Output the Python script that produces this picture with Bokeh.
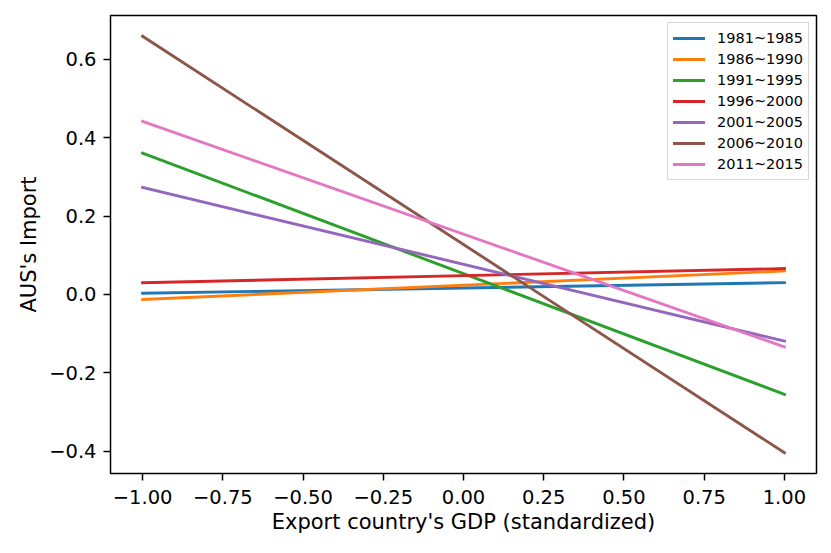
from bokeh.plotting import figure
from bokeh.models import Range1d, FixedTicker, Legend, LegendItem
from bokeh.embed import file_html
from bokeh.resources import INLINE

# ---- data ----
x_vals = [-1.0, 1.0]
periods = ["1981~1985", "1986~1990", "1991~1995", "1996~2000",
           "2001~2005", "2006~2010", "2011~2015"]
y_1981_1985 = [0.003, 0.030]
y_1986_1990 = [-0.013, 0.060]
y_1991_1995 = [0.361, -0.255]
y_1996_2000 = [0.030, 0.066]
y_2001_2005 = [0.273, -0.119]
y_2006_2010 = [0.659, -0.404]
y_2011_2015 = [0.442, -0.134]
series = [y_1981_1985, y_1986_1990, y_1991_1995, y_1996_2000,
          y_2001_2005, y_2006_2010, y_2011_2015]
colors = ["#1f77b4", "#ff7f0e", "#2ca02c", "#d62728",
          "#9467bd", "#8c564b", "#e377c2"]

x_ticks = [-1.0, -0.75, -0.5, -0.25, 0.0, 0.25, 0.5, 0.75, 1.0]
x_tick_labels = ["\u22121.00", "\u22120.75", "\u22120.50", "\u22120.25",
                 "0.00", "0.25", "0.50", "0.75", "1.00"]
y_ticks = [-0.4, -0.2, 0.0, 0.2, 0.4, 0.6]
y_tick_labels = ["\u22120.4", "\u22120.2", "0.0", "0.2", "0.4", "0.6"]

x_label = "Export country's GDP (standardized)"
y_label = "AUS's Import"

# matplotlib-like 5% margins
xmin, xmax = min(x_vals), max(x_vals)
xpad = 0.05 * (xmax - xmin)
all_y = [v for s in series for v in s]
ymin, ymax = min(all_y), max(all_y)
ypad = 0.05 * (ymax - ymin)

FONT = "DejaVu Sans"

p = figure(width=823, height=545, frame_width=706, frame_height=458,
           min_border_left=110, min_border_right=7, min_border_top=15,
           min_border_bottom=72,
           x_range=Range1d(xmin - xpad, xmax + xpad),
           y_range=Range1d(ymin - ypad, ymax + ypad),
           output_backend="svg", toolbar_location=None)

p.background_fill_color = "white"
p.border_fill_color = "white"
p.outline_line_color = "black"
p.outline_line_width = 1.5
p.outline_line_alpha = 1.0
p.grid.visible = False

items = []
for name, ys, c in zip(periods, series, colors):
    r = p.line(x_vals, ys, line_color=c, line_width=2.9, line_cap="square")
    items.append(LegendItem(label=name, renderers=[r]))

for ax in (p.xaxis[0], p.yaxis[0]):
    ax.axis_line_color = None
    ax.major_tick_line_color = "black"
    ax.major_tick_line_width = 1.5
    ax.major_tick_out = 7
    ax.major_tick_in = 0
    ax.minor_tick_line_color = None
    ax.major_label_text_font = FONT
    ax.major_label_text_font_size = "19.5px"
    ax.major_label_text_color = "black"
    ax.axis_label_text_font = FONT
    ax.axis_label_text_font_size = "21px"
    ax.axis_label_text_font_style = "normal"
    ax.axis_label_text_color = "black"

p.xaxis.ticker = FixedTicker(ticks=x_ticks)
p.yaxis.ticker = FixedTicker(ticks=y_ticks)
p.xaxis.major_label_overrides = dict(zip(x_ticks, x_tick_labels))
p.yaxis.major_label_overrides = dict(zip(y_ticks, y_tick_labels))
p.xaxis.major_label_standoff = 9
p.yaxis.major_label_standoff = 7
p.xaxis.axis_label = x_label
p.yaxis.axis_label = y_label
p.xaxis.axis_label_standoff = 3
p.yaxis.axis_label_standoff = 5

legend = Legend(items=items, location="top_right",
                label_text_font=FONT, label_text_font_size="14.5px",
                label_text_color="black",
                label_standoff=12, glyph_width=32, glyph_height=20,
                label_height=20, spacing=1, padding=5, margin=7,
                border_line_color="#cccccc", border_line_alpha=0.8,
                border_line_width=1.5,
                background_fill_color="white", background_fill_alpha=0.8)
p.add_layout(legend)

open("out.html", "w").write(file_html(p, INLINE))
